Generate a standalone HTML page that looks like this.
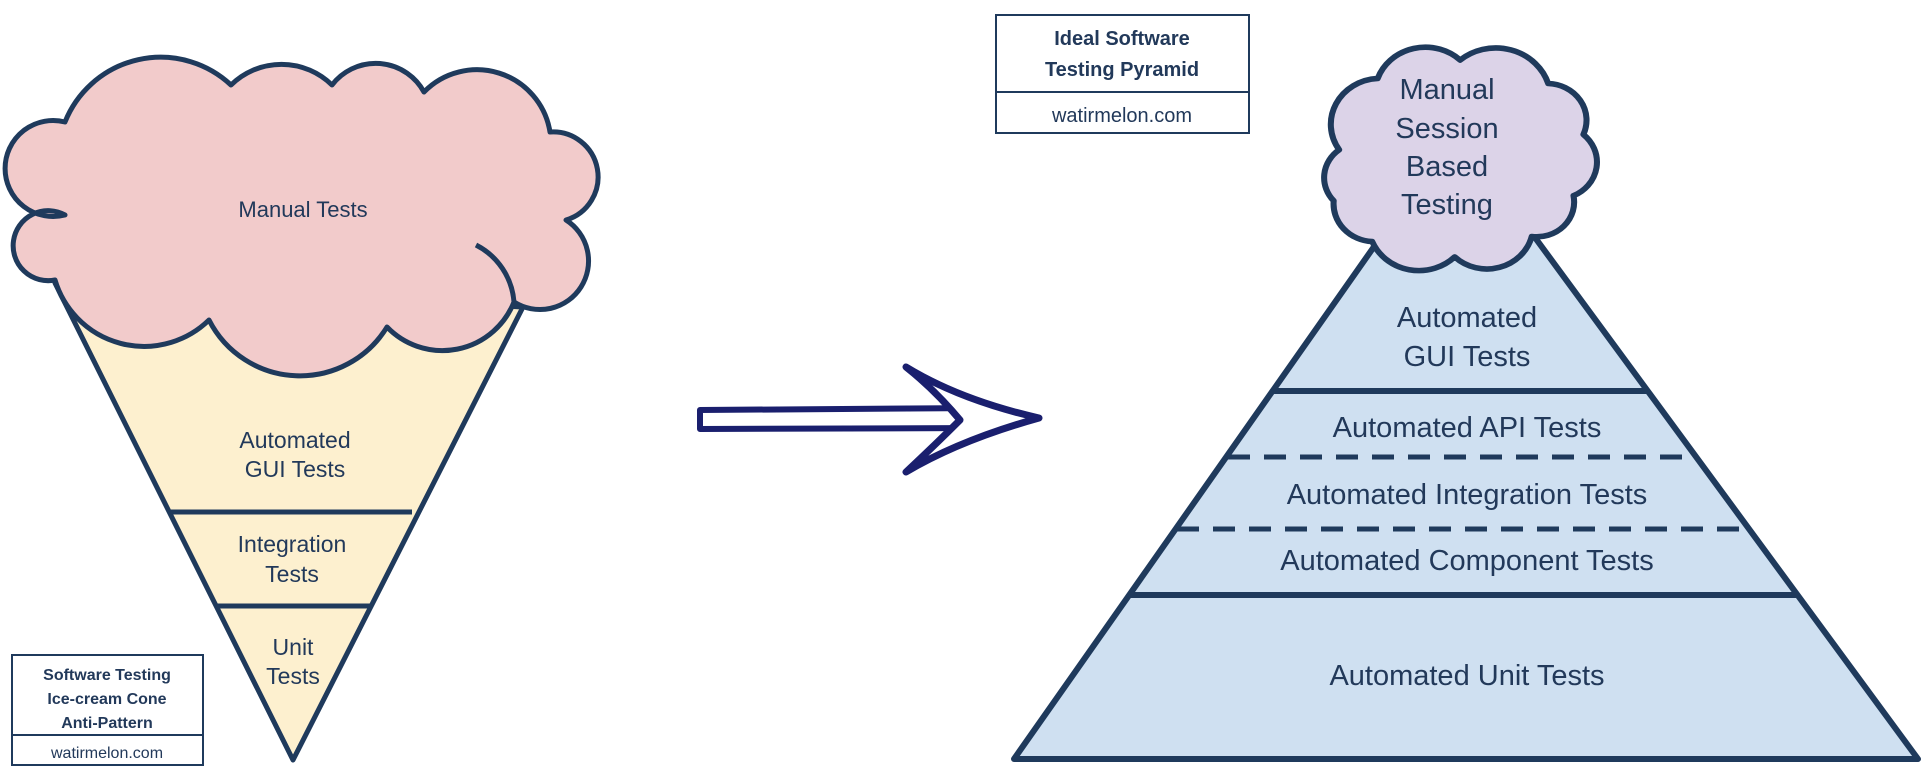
<!DOCTYPE html>
<html><head><meta charset="utf-8"><style>
html,body{margin:0;padding:0;background:#fff;}
svg{display:block;}
text{font-family:"Liberation Sans",sans-serif;fill:#22395a;}
</style></head><body>
<svg width="1928" height="780" viewBox="0 0 1928 780" xmlns="http://www.w3.org/2000/svg">
<!-- Cone -->
<polygon points="55,283 523,307 293,760" fill="#fdf0cf" stroke="#1f3a5c" stroke-width="5" stroke-linejoin="round"/>
<line x1="171" y1="512" x2="412" y2="512" stroke="#1f3a5c" stroke-width="5"/>
<line x1="216" y1="606" x2="370" y2="606" stroke="#1f3a5c" stroke-width="5"/>
<!-- Left cloud -->
<path d="M65,215 A48,48 0 1 1 65,122 A103,103 0 0 1 231,85 A72,72 0 0 1 332,85 A55,55 0 0 1 424,92 A74,74 0 0 1 550,132 A45,45 0 0 1 566,220 A48.5,48.5 0 1 1 514,302 A77,77 0 0 1 387,327 A102,102 0 0 1 209,320 A93,93 0 0 1 55,280 A35,35 0 1 1 65,215 Z" fill="#f2cbcb" stroke="#1f3a5c" stroke-width="5" stroke-linejoin="round"/>
<path d="M476,245 A70,70 0 0 1 514,302" fill="none" stroke="#1f3a5c" stroke-width="5"/>
<text x="303" y="217" font-size="22" text-anchor="middle">Manual Tests</text>
<text x="295" y="448" font-size="23" text-anchor="middle">Automated</text>
<text x="295" y="477" font-size="23" text-anchor="middle">GUI Tests</text>
<text x="292" y="552" font-size="23" text-anchor="middle">Integration</text>
<text x="292" y="582" font-size="23" text-anchor="middle">Tests</text>
<text x="293" y="655" font-size="23" text-anchor="middle">Unit</text>
<text x="293" y="684" font-size="23" text-anchor="middle">Tests</text>
<!-- left box -->
<rect x="12" y="655" width="191" height="110" fill="#fff" stroke="#1f3a5c" stroke-width="2"/>
<line x1="12" y1="735" x2="203" y2="735" stroke="#1f3a5c" stroke-width="2"/>
<text x="107" y="680" font-size="16" font-weight="bold" text-anchor="middle">Software Testing</text>
<text x="107" y="704" font-size="16" font-weight="bold" text-anchor="middle">Ice-cream Cone</text>
<text x="107" y="728" font-size="16" font-weight="bold" text-anchor="middle">Anti-Pattern</text>
<text x="107" y="758" font-size="16" text-anchor="middle">watirmelon.com</text>
<!-- Arrow -->
<path d="M700,410 L985,408 L985,428 L700,429 Z" fill="#fff" stroke="#1a1f6e" stroke-width="6" stroke-linejoin="round"/>
<path d="M906,367 Q960,400 1039,418 Q960,440 906,472 Q935,445 960,420 Q935,390 906,367 Z" fill="#fff" stroke="#1a1f6e" stroke-width="7" stroke-linejoin="round"/>
<!-- right box -->
<rect x="996" y="15" width="253" height="118" fill="#fff" stroke="#1f3a5c" stroke-width="2"/>
<line x1="996" y1="92" x2="1249" y2="92" stroke="#1f3a5c" stroke-width="2"/>
<text x="1122" y="45" font-size="20" font-weight="bold" text-anchor="middle">Ideal Software</text>
<text x="1122" y="76" font-size="20" font-weight="bold" text-anchor="middle">Testing Pyramid</text>
<text x="1122" y="122" font-size="20" text-anchor="middle">watirmelon.com</text>
<!-- Pyramid -->
<polygon points="1456,130 1918,759 1014,759" fill="#cfe0f1" stroke="#1f3a5c" stroke-width="6" stroke-linejoin="round"/>
<line x1="1272" y1="391" x2="1647" y2="391" stroke="#1f3a5c" stroke-width="6"/>
<line x1="1228" y1="457" x2="1694" y2="457" stroke="#1f3a5c" stroke-width="5" stroke-dasharray="22,14"/>
<line x1="1177" y1="529" x2="1747" y2="529" stroke="#1f3a5c" stroke-width="5" stroke-dasharray="22,14"/>
<line x1="1129" y1="595" x2="1797" y2="595" stroke="#1f3a5c" stroke-width="6"/>
<text x="1467" y="327" font-size="29" text-anchor="middle">Automated</text>
<text x="1467" y="366" font-size="29" text-anchor="middle">GUI Tests</text>
<text x="1467" y="437" font-size="29" text-anchor="middle">Automated API Tests</text>
<text x="1467" y="504" font-size="29" text-anchor="middle">Automated Integration Tests</text>
<text x="1467" y="570" font-size="29" text-anchor="middle">Automated Component Tests</text>
<text x="1467" y="685" font-size="29" text-anchor="middle">Automated Unit Tests</text>
<!-- Right cloud -->
<g transform="translate(1458,160) scale(1.1,1.02) translate(-1458,-160)">
<path d="M1350,150 A45,45 0 0 1 1385,80 A46,46 0 0 1 1460,62 A50,50 0 0 1 1540,85 A36,36 0 0 1 1572,135 A36,36 0 0 1 1563,195 A34,34 0 0 1 1525,235 A42,42 0 0 1 1455,255 A46,46 0 0 1 1380,240 A37,37 0 0 1 1345,200 A34,34 0 0 1 1350,150 Z" fill="#dcd3e8" stroke="#1f3a5c" stroke-width="5.5" stroke-linejoin="round"/>
</g>
<text x="1447" y="99" font-size="29" text-anchor="middle">Manual</text>
<text x="1447" y="138" font-size="29" text-anchor="middle">Session</text>
<text x="1447" y="176" font-size="29" text-anchor="middle">Based</text>
<text x="1447" y="214" font-size="29" text-anchor="middle">Testing</text>
</svg>
</body></html>
